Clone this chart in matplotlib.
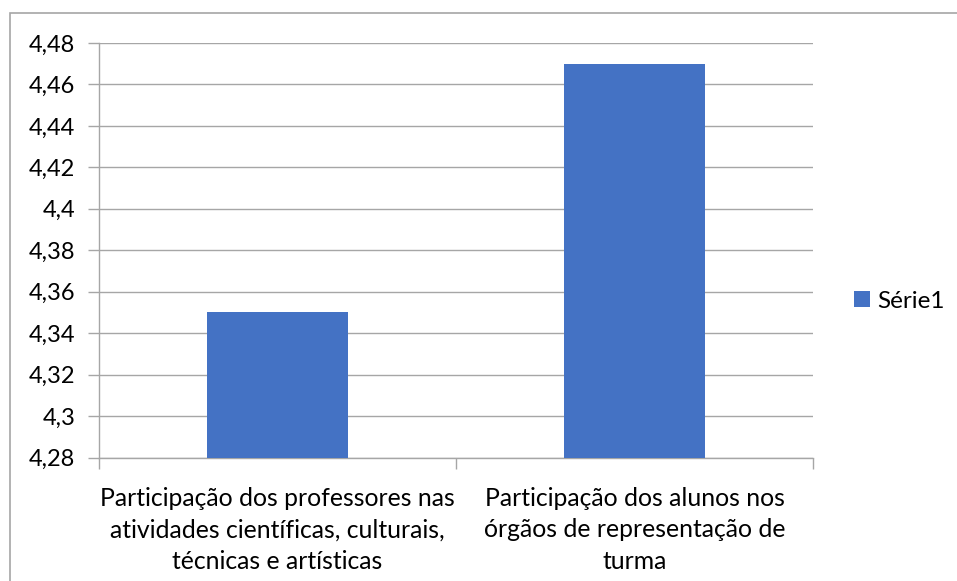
import matplotlib.pyplot as plt
from matplotlib.patches import Rectangle

categories = [
    "Participação dos professores nas\natividades científicas, culturais,\ntécnicas e artísticas",
    "Participação dos alunos nos\nórgãos de representação de\nturma",
]
values = [4.35, 4.47]
series_name = "Série1"
y_ticks = [4.28, 4.30, 4.32, 4.34, 4.36, 4.38, 4.40, 4.42, 4.44, 4.46, 4.48]
y_tick_labels = ["4,28", "4,3", "4,32", "4,34", "4,36", "4,38", "4,4",
                 "4,42", "4,44", "4,46", "4,48"]

plt.rcParams['font.family'] = ['Lato', 'DejaVu Sans']
grid_col = '#A6A6A6'
bar_col = '#4472C4'

fig = plt.figure(figsize=(9.57, 5.81), dpi=100)
ax = fig.add_axes([99 / 957, 1 - 457.5 / 581, (813 - 99) / 957, (457.5 - 43) / 581])

x = list(range(len(categories)))
bars = ax.bar(x, values, width=0.395, color=bar_col, label=series_name, zorder=3)

ax.set_xlim(-0.5, len(categories) - 0.5)
ax.set_ylim(y_ticks[0], y_ticks[-1])
ax.set_yticks(y_ticks)
ax.set_yticklabels(y_tick_labels, fontsize=17)
ax.grid(axis='y', color=grid_col, linewidth=1, zorder=0)

# category boundaries as tick marks, labels in the middle
ax.set_xticks([-0.5, 0.5, 1.5])
ax.set_xticklabels([])
ax.set_xticks(x, minor=True)
ax.set_xticklabels(categories, minor=True, fontsize=17.8, linespacing=1.45)
ax.tick_params(axis='x', which='minor', length=0, pad=21)
ax.tick_params(axis='x', which='major', length=8, color=grid_col, width=1)
ax.tick_params(axis='y', length=8, color=grid_col, width=1, pad=9)

for s in ['top', 'right']:
    ax.spines[s].set_visible(False)
for s in ['left', 'bottom']:
    ax.spines[s].set_color(grid_col)
    ax.spines[s].set_linewidth(1)

ax.legend(loc='center left', bbox_to_anchor=(844 / 957, 1 - 301 / 581),
          bbox_transform=fig.transFigure, frameon=False, fontsize=17.5,
          handlelength=0.65, handleheight=0.65, handletextpad=0.3, borderaxespad=0)

# chart border (cut by the image edge at right and bottom)
fig.patches.append(Rectangle((10 / 957, -0.1), 1.2, 1 - 13 / 581 + 0.1,
                             transform=fig.transFigure, fill=False,
                             edgecolor=grid_col, linewidth=1.2))

fig.savefig('out.png', dpi=100)
